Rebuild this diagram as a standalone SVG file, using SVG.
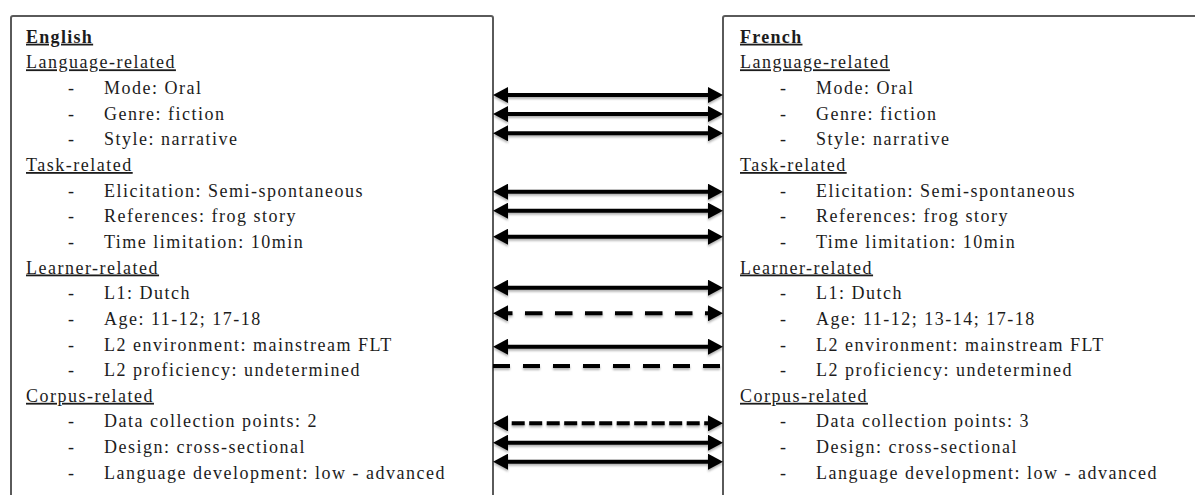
<svg xmlns="http://www.w3.org/2000/svg" width="1195" height="495" viewBox="0 0 1195 495">
  <style>
    .box { fill: #ffffff; stroke: #5a5a5a; stroke-width: 2; }
    text { font-family: "Liberation Serif", "Times New Roman", serif; font-size: 18px; letter-spacing: 1.5px; fill: #1c1c1c; }
    .title { font-weight: bold; text-decoration: underline; letter-spacing: 1.3px; }
    .head { text-decoration: underline; }
    .conn { stroke: #000; stroke-width: 4; fill: none; }
    .dash1 { stroke-dasharray: 17.5 12.5; stroke-dashoffset: 10; }
    .dash2 { stroke-dasharray: 17 13; }
    .dash3 { stroke-dasharray: 13 4.5; stroke-dashoffset: 10.8; }
    .arr { marker-start: url(#ah); marker-end: url(#ah); }
  </style>
  <defs>
    <marker id="ah" viewBox="0 0 15 16" markerWidth="15" markerHeight="16" markerUnits="userSpaceOnUse" refX="3" refY="8" orient="auto-start-reverse">
      <path d="M0,0 L15,8 L0,16 z" fill="#000"/>
    </marker>
    <filter id="sh" x="-5%" y="-50%" width="110%" height="200%">
      <feDropShadow dx="0" dy="2" stdDeviation="1.2" flood-color="#000" flood-opacity="0.3"/>
    </filter>
  </defs>

  <g id="english">
    <rect class="box" x="11" y="16" width="482" height="500" rx="2"/>
    <text class="title" x="26" y="42.7">English</text>
    <text class="head" x="26" y="68.3">Language-related</text>
    <text x="68" y="94">-</text><text x="104" y="94">Mode: Oral</text>
    <text x="68" y="119.6">-</text><text x="104" y="119.6">Genre: fiction</text>
    <text x="68" y="145.3">-</text><text x="104" y="145.3">Style: narrative</text>
    <text class="head" x="26" y="171">Task-related</text>
    <text x="68" y="196.6">-</text><text x="104" y="196.6">Elicitation: Semi-spontaneous</text>
    <text x="68" y="222.2">-</text><text x="104" y="222.2">References: frog story</text>
    <text x="68" y="247.9">-</text><text x="104" y="247.9">Time limitation: 10min</text>
    <text class="head" x="26" y="273.5">Learner-related</text>
    <text x="68" y="299.2">-</text><text x="104" y="299.2">L1: Dutch</text>
    <text x="68" y="324.8">-</text><text x="104" y="324.8">Age: 11-12; 17-18</text>
    <text x="68" y="350.5">-</text><text x="104" y="350.5">L2 environment: mainstream FLT</text>
    <text x="68" y="376.1">-</text><text x="104" y="376.1">L2 proficiency: undetermined</text>
    <text class="head" x="26" y="401.8">Corpus-related</text>
    <text x="68" y="427.4">-</text><text x="104" y="427.4">Data collection points: 2</text>
    <text x="68" y="453.1">-</text><text x="104" y="453.1">Design: cross-sectional</text>
    <text x="68" y="478.7">-</text><text x="104" y="478.7">Language development: low - advanced</text>
  </g>

  <g id="french">
    <rect class="box" x="723" y="16" width="500" height="500" rx="2"/>
    <text class="title" x="740" y="42.7">French</text>
    <text class="head" x="740" y="68.3">Language-related</text>
    <text x="780" y="94">-</text><text x="816" y="94">Mode: Oral</text>
    <text x="780" y="119.6">-</text><text x="816" y="119.6">Genre: fiction</text>
    <text x="780" y="145.3">-</text><text x="816" y="145.3">Style: narrative</text>
    <text class="head" x="740" y="171">Task-related</text>
    <text x="780" y="196.6">-</text><text x="816" y="196.6">Elicitation: Semi-spontaneous</text>
    <text x="780" y="222.2">-</text><text x="816" y="222.2">References: frog story</text>
    <text x="780" y="247.9">-</text><text x="816" y="247.9">Time limitation: 10min</text>
    <text class="head" x="740" y="273.5">Learner-related</text>
    <text x="780" y="299.2">-</text><text x="816" y="299.2">L1: Dutch</text>
    <text x="780" y="324.8">-</text><text x="816" y="324.8">Age: 11-12; 13-14; 17-18</text>
    <text x="780" y="350.5">-</text><text x="816" y="350.5">L2 environment: mainstream FLT</text>
    <text x="780" y="376.1">-</text><text x="816" y="376.1">L2 proficiency: undetermined</text>
    <text class="head" x="740" y="401.8">Corpus-related</text>
    <text x="780" y="427.4">-</text><text x="816" y="427.4">Data collection points: 3</text>
    <text x="780" y="453.1">-</text><text x="816" y="453.1">Design: cross-sectional</text>
    <text x="780" y="478.7">-</text><text x="816" y="478.7">Language development: low - advanced</text>
  </g>

  <g id="connectors" filter="url(#sh)">
    <line class="conn arr" x1="505" y1="95" x2="711" y2="95"/>
    <line class="conn arr" x1="505" y1="114" x2="711" y2="114"/>
    <line class="conn arr" x1="505" y1="133.3" x2="711" y2="133.3"/>
    <line class="conn arr" x1="505" y1="191.7" x2="711" y2="191.7"/>
    <line class="conn arr" x1="505" y1="210.7" x2="711" y2="210.7"/>
    <line class="conn arr" x1="505" y1="236.7" x2="711" y2="236.7"/>
    <line class="conn arr" x1="505" y1="287.7" x2="711" y2="287.7"/>
    <line class="conn arr dash1" x1="505" y1="313.3" x2="711" y2="313.3"/>
    <line class="conn arr" x1="505" y1="346.7" x2="711" y2="346.7"/>
    <line class="conn dash2" x1="493" y1="366" x2="720" y2="366"/>
    <line class="conn arr dash3" x1="505" y1="423.3" x2="711" y2="423.3"/>
    <line class="conn arr" x1="505" y1="442.7" x2="711" y2="442.7"/>
    <line class="conn arr" x1="505" y1="461.7" x2="711" y2="461.7"/>
  </g>
</svg>
